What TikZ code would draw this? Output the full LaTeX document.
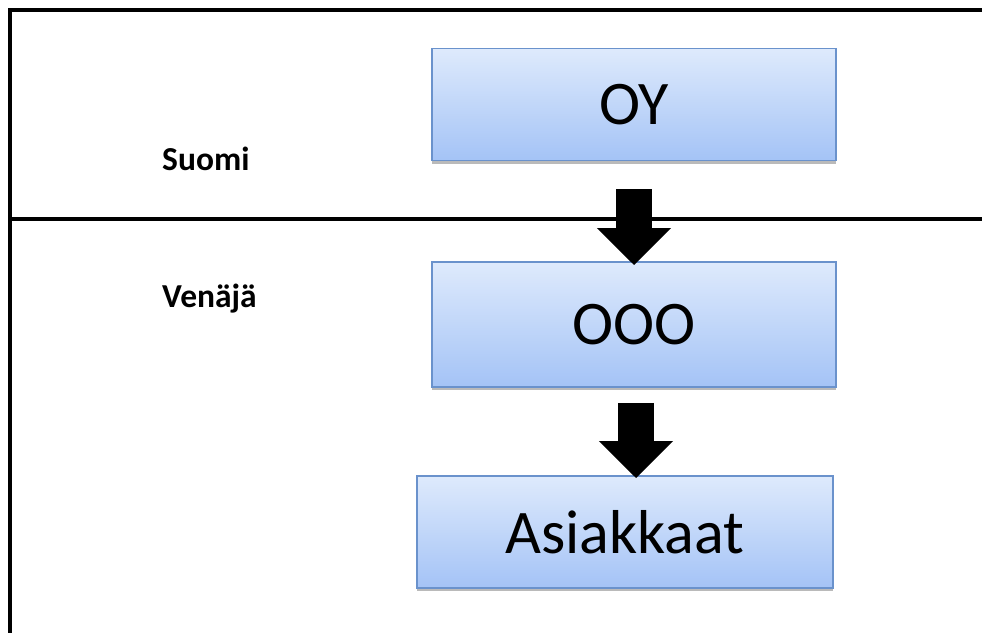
\documentclass[tikz,border=0pt]{standalone}
\usepackage{fontspec}
\setmainfont{Carlito}
\usetikzlibrary{arrows.meta,shadows}
\definecolor{boxtop}{HTML}{DEEAFC}
\definecolor{boxbot}{HTML}{A4C3F6}
\definecolor{boxline}{HTML}{6A92CC}
\tikzset{
  orgbox/.style={draw=boxline, line width=1.8pt, top color=boxtop, bottom color=boxbot,
    inner sep=0pt, font=\fontsize{62}{70}\selectfont,
    drop shadow={shadow xshift=0pt, shadow yshift=-3pt, opacity=0.45, fill=black!60}},
  frameline/.style={line width=4pt, black},
  regionlabel/.style={font=\bfseries\fontsize{33.5}{38}\selectfont, anchor=base west, inner sep=0pt},
  blockarrow/.style={line width=36pt, -{Triangle[width=72pt,length=37pt]}}
}
\begin{document}
\begin{tikzpicture}[x=1pt,y=-1pt]
\useasboundingbox (0,0) rectangle (982,632);
\fill[white] (0,0) rectangle (982,632);
\draw[frameline] (10,640) -- (10,10) -- (990,10);
\draw[frameline] (10,219) -- (990,219);
\node[regionlabel] (suomi) at (162,170) {Suomi};
\node[regionlabel] (venaja) at (162,307) {Venäjä};
\node[orgbox, minimum width=404pt, minimum height=112pt] (oy) at (634,104.5) {OY};
\node[orgbox, minimum width=404pt, minimum height=125pt] (ooo) at (634,324.5) {OOO};
\node[orgbox, minimum width=416pt, minimum height=112pt] (asi) at (625,532) {Asiakkaat};
\draw[blockarrow] ([yshift=-28pt]oy.south) -- ([yshift=-4pt]ooo.north);
\draw[blockarrow] ([xshift=2pt,yshift=-15pt]ooo.south) -- ([xshift=2pt,yshift=-3pt,]ooo.south |- asi.north);
\end{tikzpicture}
\end{document}
